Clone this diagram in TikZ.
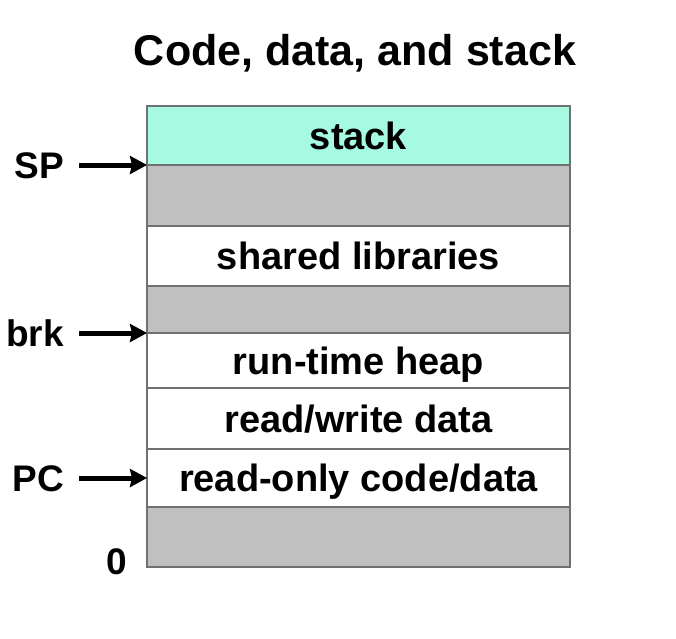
\documentclass[tikz,border=0pt]{standalone}
\usepackage{fontspec}
\setmainfont{Liberation Sans}
\usetikzlibrary{arrows.meta}
\definecolor{stackgreen}{RGB}{166,250,226}
\definecolor{holegray}{RGB}{192,192,192}
\definecolor{edgegray}{RGB}{112,112,112}
\begin{document}
\begin{tikzpicture}[x=1pt,y=-1pt]
      \newcommand{\memwidth}[0]{423pt}
      \newcommand{\arrowlen}[0]{68pt}
      \newcommand{\labelgap}[0]{15pt}

      \useasboundingbox (0,0) rectangle (676,638);

      \tikzstyle{seg}=[
        rectangle,
        draw=edgegray,
        line width=1.2pt,
        fill=white,
        anchor=north,
        align=center,
        inner sep=0pt,
        outer sep=0pt,
        text height=27pt,
        text depth=0pt,
        minimum width=\memwidth,
        font=\fontsize{38}{42}\selectfont\bfseries,
      ]
      \tikzstyle{hole}=[
        seg,
        fill=holegray,
      ]
      \tikzstyle{reg}=[
        anchor=east,
        inner sep=0pt,
        text height=26.5pt,
        text depth=0pt,
        font=\fontsize{37}{40}\selectfont\bfseries,
      ]
      \tikzstyle{ptr}=[
        line width=5pt,
        -{Stealth[length=17pt,width=18pt,inset=2pt]},
      ]

      % title
      \node[font=\fontsize{43}{47}\selectfont\bfseries] (title) at (355,53) {Code, data, and stack};

      % address space, top to bottom
      \node[seg,fill=stackgreen,minimum height=59pt] (stack) at (358.5,106) {stack};
      \node[hole,minimum height=61pt] (gapI) at (stack.south) {};
      \node[seg,minimum height=60pt] (libs) at (gapI.south) {shared libraries};
      \node[hole,minimum height=47pt] (gapII) at (libs.south) {};
      \node[seg,minimum height=55pt] (heap) at (gapII.south) {run-time heap};
      \node[seg,minimum height=61pt] (rwdata) at (heap.south) {read/write data};
      \node[seg,minimum height=58pt] (rocode) at (rwdata.south) {read-only code/data};
      \node[hole,minimum height=60pt] (gapIII) at (rocode.south) {};

      % registers
      \coordinate (spend) at (stack.south west);
      \coordinate (brkend) at (heap.north west);
      \coordinate (pcend) at (rocode.west);

      \coordinate (spstart) at ([xshift=-\arrowlen] spend);
      \coordinate (brkstart) at ([xshift=-\arrowlen] brkend);
      \coordinate (pcstart) at ([xshift=-\arrowlen] pcend);

      \node[reg] (sp) at ([xshift=-\labelgap] spstart) {SP};
      \node[reg] (brk) at ([xshift=-\labelgap] brkstart) {brk};
      \node[reg] (pc) at ([xshift=-\labelgap] pcstart) {PC};
      \node[reg] (zero) at ([xshift=-20pt,yshift=6pt] gapIII.south west) {0};

      \draw[ptr] (spstart) -- (spend);
      \draw[ptr] (brkstart) -- (brkend);
      \draw[ptr] (pcstart) -- (pcend);
\end{tikzpicture}
\end{document}
